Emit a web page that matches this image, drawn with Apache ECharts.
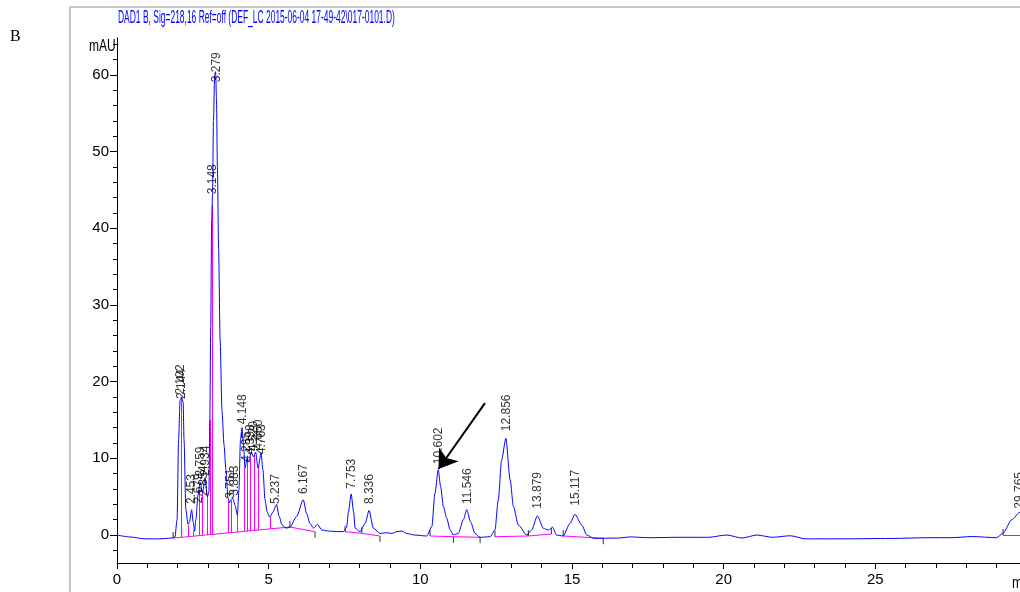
<!DOCTYPE html>
<html>
<head>
<meta charset="utf-8">
<script src="https://cdn.jsdelivr.net/npm/echarts@6/dist/echarts.min.js"></script>
<style>html,body{margin:0;padding:0;background:#fff}#c{width:1020px;height:592px}</style>
</head>
<body>
<div id="c"></div>
<script>
// ---- data ----
const traceTime = [0.00,0.43,0.92,1.42,1.81,1.91,1.98,2.03,2.08,2.13,2.18,2.21,2.27,2.34,2.39,2.46,2.51,2.56,2.60,2.67,2.74,2.82,2.90,2.98,3.03,3.06,3.09,3.12,3.15,3.18,3.22,3.25,3.28,3.31,3.35,3.40,3.46,3.53,3.59,3.66,3.71,3.76,3.82,3.89,3.97,4.02,4.07,4.12,4.17,4.22,4.29,4.35,4.43,4.50,4.57,4.65,4.75,4.81,4.88,4.95,5.04,5.14,5.26,5.34,5.44,5.57,5.70,5.92,6.14,6.25,6.36,6.48,6.61,6.75,7.00,7.46,7.57,7.63,7.72,7.80,7.85,8.01,8.18,8.31,8.45,8.67,8.89,9.06,9.22,9.39,9.55,9.80,10.21,10.38,10.48,10.59,10.67,10.76,10.87,10.98,11.09,11.25,11.42,11.53,11.66,11.80,11.97,12.30,12.46,12.57,12.68,12.82,12.96,13.07,13.23,13.51,13.67,13.86,14.06,14.22,14.36,14.49,14.71,14.93,15.10,15.32,15.49,15.71,16.50,16.93,17.50,18.50,19.50,20.10,20.60,21.10,21.60,22.20,22.70,24.00,25.50,26.80,27.50,28.20,29.00,29.20,29.50,29.76,30.00];
const traceAbs  = [0.0,-0.26,-0.50,-0.50,-0.40,-0.26,2.0,12.4,17.6,18.0,17.3,12.4,3.3,1.4,1.7,3.3,1.7,0.5,2.0,5.2,6.9,5.5,7.4,5.0,5.6,15.0,27.0,41.0,44.5,54.0,60.0,60.4,57.0,48.0,37.2,25.4,16.3,11.7,8.5,4.8,4.2,4.6,4.8,3.9,2.6,5.9,12.4,14.0,11.7,8.7,10.0,9.5,10.8,10.2,10.8,8.7,10.7,8.5,4.6,3.0,2.3,3.0,4.0,2.5,1.3,0.9,1.0,2.4,4.6,2.8,1.5,0.9,1.4,0.65,0.5,0.43,1.0,3.0,5.35,3.0,0.9,0.43,1.5,3.2,0.9,0.2,0.3,0.2,0.43,0.52,0.2,0.0,-0.13,1.1,5.4,8.5,6.3,3.7,2.2,0.65,0.0,0.2,2.0,3.3,1.7,0.2,-0.3,-0.22,0.65,4.6,9.8,12.6,7.2,3.7,1.3,0.0,0.65,2.5,0.87,0.65,1.0,0.0,-0.13,1.5,2.7,1.3,0.0,-0.43,-0.40,-0.25,-0.35,-0.30,-0.30,0.0,-0.40,0.0,-0.30,-0.10,-0.50,-0.50,-0.45,-0.35,-0.35,-0.20,-0.35,0.20,2.0,2.95,2.5];

const peakNames = ["2.102","2.144","2.453","2.679","2.759","2.854","2.934","3.148","3.279","3.751","3.883","4.148","4.285","4.398","4.520","4.660","4.763","5.237","6.167","7.753","8.336","10.602","11.546","12.856","13.879","15.117","29.765"];
const peakTime  = [2.102,2.144,2.453,2.679,2.759,2.854,2.934,3.148,3.279,3.751,3.883,4.148,4.285,4.398,4.520,4.660,4.763,5.237,6.167,7.753,8.336,10.602,11.546,12.856,13.879,15.117,29.765];
const labelBase = [18.2,17.6,3.9,4.0,7.5,5.0,7.6,44.3,58.9,4.6,5.0,14.3,9.4,10.4,10.8,11.0,10.4,3.9,5.2,5.9,3.9,9.1,3.9,13.4,3.3,3.7,3.3];

// integration baselines: [startTime, startAbs, endTime, endAbs]
const baseStartT = [1.85,5.70,7.52,8.07,10.32,11.09,12.46,13.56,14.71,29.21];
const baseStartY = [-0.40,1.04,0.43,0.22,-0.13,-0.22,-0.22,-0.13,-0.13,0.00];
const baseEndT   = [5.70,6.53,8.07,8.67,11.09,11.97,13.56,14.32,16.03,30.00];
const baseEndY   = [1.04,0.43,0.22,-0.13,-0.22,-0.30,-0.13,0.13,-0.43,0.00];

// peak separation drop lines
const dropT   = [2.13,2.35,2.53,2.70,2.82,2.97,3.06,3.13,3.68,3.75,3.97,4.21,4.28,4.39,4.52,4.66,5.05];
const dropTop = [17.9,1.3,0.6,5.8,5.5,5.2,15.0,43.0,4.4,4.5,2.6,8.7,9.9,10.0,10.4,8.7,2.3];
const dropBot = [-0.30,-0.22,-0.16,-0.09,-0.05,0.00,0.03,0.06,0.26,0.29,0.37,0.46,0.49,0.53,0.58,0.63,0.77];

// start/end marks of integration
const markUpT = [1.85,5.70,7.52,8.07,10.32,12.46,13.56,14.32,14.71,29.21];
const markUpY = [-0.40,1.04,0.43,0.22,-0.13,-0.22,-0.13,0.13,-0.13,0.00];
const markDnT = [6.53,8.67,11.09,11.97,16.03];
const markDnY = [0.43,-0.13,-0.22,-0.30,-0.43];

const arrowFrom = [12.13,17.2];
const arrowTo   = [10.60,8.6];

const yMajor = [0,10,20,30,40,50,60];
const yMinor = [-2,2,4,6,8,12,14,16,18,22,24,26,28,32,34,36,38,42,44,46,48,52,54,56,58,62,64];

const titleText = "DAD1 B, Sig=218,16 Ref=off (DEF_LC 2015-06-04 17-49-42\\017-0101.D)";

// ---- chart ----
const FONT = "'Liberation Sans',Arial,sans-serif";
const chart = echarts.init(document.getElementById('c'), null, {renderer:'canvas'});

const trace = traceTime.map((t,i)=>[t, traceAbs[i]]);
const baseLines = baseStartT.map((t,i)=>({coords:[[t,baseStartY[i]],[baseEndT[i],baseEndY[i]]]}));
const dropLines = dropT.map((t,i)=>({coords:[[t,dropBot[i]],[t,dropTop[i]]]}));
const labels = peakTime.map((t,i)=>({value:[t,labelBase[i]], name:peakNames[i]}));

chart.setOption({
  animation:false,
  backgroundColor:'#fff',
  grid:{left:117, top:38, width:910, height:525, containLabel:false, outerBoundsMode:'none'},
  xAxis:{
    type:'value', min:0, max:30, interval:5,
    axisLine:{show:true, onZero:false, lineStyle:{color:'#000', width:1}},
    axisTick:{show:true, inside:false, length:6, lineStyle:{color:'#000'}},
    minorTick:{show:true, splitNumber:5, length:5, lineStyle:{color:'#000'}},
    axisLabel:{color:'#000', fontFamily:FONT, fontSize:15, margin:9, showMaxLabel:false},
    splitLine:{show:false}
  },
  yAxis:[{
    type:'value', min:-3.65, max:64.8,
    axisLine:{show:true, onZero:false, lineStyle:{color:'#000', width:1}},
    axisTick:{show:true, inside:false, length:7, customValues:yMajor, lineStyle:{color:'#000'}},
    axisLabel:{color:'#000', fontFamily:FONT, fontSize:15, margin:8, customValues:yMajor},
    splitLine:{show:false}
  },{
    type:'value', min:-3.65, max:64.8, position:'left',
    axisLine:{show:false},
    axisTick:{show:true, inside:false, length:4, customValues:yMinor, lineStyle:{color:'#000'}},
    axisLabel:{show:false},
    splitLine:{show:false}
  }],
  graphic:[
    {type:'polyline', silent:true, shape:{points:[[70,592],[70,7],[1020,7]]}, style:{stroke:'#c8c8c8', lineWidth:2, fill:null}},
    {type:'text', left:10, top:29, style:{text:'B', font:"16px 'Liberation Serif','DejaVu Serif',serif", fill:'#000'}},
    {type:'text', x:118, y:9, scaleX:0.47, style:{text:titleText, font:"18px "+FONT, fill:'#0000ff'}},
    {type:'text', x:89, y:39, scaleX:0.75, style:{text:'mAU', font:"16px "+FONT, fill:'#000'}},
    {type:'text', x:1012, y:576, scaleX:0.8, style:{text:'min', font:"16px "+FONT, fill:'#000'}}
  ],
  series:[
    {type:'lines', coordinateSystem:'cartesian2d', polyline:false, silent:true, z:2,
     lineStyle:{color:'#ff00ff', width:1, opacity:1}, data:baseLines},
    {type:'lines', coordinateSystem:'cartesian2d', polyline:false, silent:true, z:2,
     lineStyle:{color:'#ff00ff', width:1, opacity:1}, data:dropLines},
    {type:'line', data:trace, showSymbol:false, smooth:0.25, smoothMonotone:'x', z:3,
     lineStyle:{color:'#0000ff', width:1}, silent:true},
    {type:'scatter', z:4, silent:true, symbol:'rect', symbolSize:[1,6], symbolOffset:[0,-3],
     itemStyle:{color:'#000'}, data:markUpT.map((t,i)=>[t,markUpY[i]])},
    {type:'scatter', z:4, silent:true, symbol:'rect', symbolSize:[1,6], symbolOffset:[0,3],
     itemStyle:{color:'#000'}, data:markDnT.map((t,i)=>[t,markDnY[i]])},
    {type:'scatter', z:5, silent:true, symbolSize:0, data:labels,
     label:{show:true, position:'top', distance:1, rotate:90, align:'left', verticalAlign:'middle',
            formatter:p=>p.name, color:'#000', fontFamily:FONT, fontSize:12}},
    {type:'lines', coordinateSystem:'cartesian2d', silent:true, z:6,
     symbol:['none','arrow'], symbolSize:[14,18],
     lineStyle:{color:'#000', width:2, opacity:1},
     data:[{coords:[arrowFrom, arrowTo]}]}
  ]
});
</script>
</body>
</html>
